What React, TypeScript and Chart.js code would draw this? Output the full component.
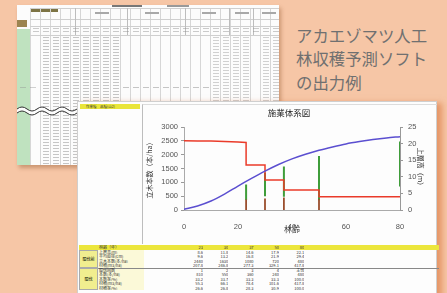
import React, { useEffect, useRef } from "react";
import { Chart, registerables } from "chart.js";

Chart.register(...registerables);

// ---- data ----
const heightAges = [0, 5, 10, 15, 20, 25, 30, 35, 40, 45, 50, 55, 60, 65, 70, 75, 80];
const topHeight = [0.2, 1.2, 2.7, 4.8, 7.2, 9.5, 11.7, 13.7, 15.4, 16.8, 18.0, 19.0, 19.9, 20.6, 21.2, 21.7, 22.1];

const densityAges = [0, 5, 10, 15, 20, 23, 23, 30, 30, 37, 37, 50, 50, 80];
const densityValues = [2500, 2498, 2492, 2480, 2462, 2440, 1630, 1630, 1080, 1080, 720, 720, 480, 480];

const thinningAges = [23, 30, 37, 50, 80];
const greenPeak = [920, 1350, 1570, 1950, 2480];
const greenBase = [360, 500, 480, 350, 850];
const brownTop = [380, 420, 450, 400, 0];

const xTicks = [0, 20, 40, 60, 80];

const tableAges = ["23", "30", "37", "50", "80"];
const beforeLabels = ["上層高(m)", "平均直径(cm)", "立木本数(本/ha)", "材積(m3/ha)"];
const beforeRows = [
  ["8.6", "11.8", "14.6", "17.9", "22.1"],
  ["9.6", "13.2", "16.8", "21.9", "29.4"],
  ["2440", "1630", "1080", "720", "480"],
  ["207.8", "246.8", "277.3", "329.1", "417.8"],
];
const thinLabels = ["間伐回数", "本数(本/ha)", "本数率(%)", "材積(m3/ha)", "材積率(%)"];
const thinRows = [
  ["1", "2", "3", "4", "主伐"],
  ["810", "550", "360", "240", "480"],
  ["33.2", "33.7", "33.3", "33.3", "100.0"],
  ["55.3", "66.1", "78.4", "101.6", "417.8"],
  ["26.6", "26.8", "28.3", "30.9", "100.0"],
];

function spikes(ages: number[], from: number[], to: number[]) {
  const out: { x: number; y: number | null }[] = [];
  ages.forEach((a, i) => {
    if (to[i] > from[i]) {
      out.push({ x: a, y: from[i] });
      out.push({ x: a, y: to[i] });
      out.push({ x: a, y: null });
    }
  });
  return out;
}

const digitMask = "repeating-linear-gradient(to right, transparent 0 3px, #000 3px 9px, transparent 9px 10px)";

function Digits({ left, top, width, height, opacity = 0.5 }: { left: number; top: number; width: number; height: number; opacity?: number }) {
  return (
    <div
      style={{
        position: "absolute",
        left,
        top,
        width,
        height,
        backgroundImage: "repeating-linear-gradient(to bottom, #8f8f8f 0 1px, transparent 1px 3px)",
        WebkitMaskImage: digitMask,
        maskImage: digitMask,
        opacity,
      }}
    />
  );
}

function Spreadsheet() {
  return (
    <div
      style={{
        position: "absolute",
        left: 17,
        top: 5,
        width: 262,
        height: 160,
        background: "#fcfcfc",
        boxShadow: "2px 3px 4px rgba(150,90,50,0.45)",
        overflow: "hidden",
      }}
    >
      {/* green first column */}
      <div style={{ position: "absolute", left: 0, top: 24, width: 13, height: 136, background: "#bfe2bf" }} />
      <div style={{ position: "absolute", left: 0, top: 15, width: 10, height: 7, background: "#9c8450" }} />
      <div style={{ position: "absolute", left: 13, top: 3, width: 28, height: 4, background: "#7d7445" }} />
      {/* column lines */}
      <div
        style={{
          position: "absolute",
          left: 13,
          top: 3,
          width: 249,
          height: 157,
          backgroundImage: "repeating-linear-gradient(to right, #d6d6d6 0 1px, transparent 1px 10px)",
        }}
      />
      {/* header lines */}
      {[3, 14, 21, 30].map((y) => (
        <div key={y} style={{ position: "absolute", left: 13, top: y, width: 249, height: 1, background: "#cfcfcf" }} />
      ))}
      {[58, 110, 168, 212, 236].map((x) => (
        <div key={x} style={{ position: "absolute", left: x, top: 3, width: 1, height: 27, background: "#bdbdbd" }} />
      ))}
      {[78, 128, 185, 218, 245].map((x) => (
        <div key={x} style={{ position: "absolute", left: x, top: 7, width: 14, height: 1.5, background: "#a8a8a8" }} />
      ))}
      {/* column header text marks */}
      <Digits left={13} top={23} width={249} height={6} opacity={0.45} />
      <div style={{ position: "absolute", left: 95, top: 0, width: 30, height: 2, background: "#777" }} />
      <div style={{ position: "absolute", left: 150, top: 0, width: 22, height: 2, background: "#999" }} />
      {/* data values */}
      <Digits left={23} top={32} width={80} height={128} opacity={0.5} />
      <Digits left={193} top={32} width={40} height={128} opacity={0.4} />
      <Digits left={243} top={32} width={19} height={128} opacity={0.4} />
      <Digits left={103} top={82} width={90} height={2} opacity={0.5} />
      <Digits left={0} top={82} width={23} height={2} opacity={0.4} />
      {/* break marker */}
      <svg style={{ position: "absolute", left: 0, top: 100, width: 262, height: 12 }} viewBox="0 0 262 12">
        <path d="M0 4 q5 -4 10 0 t10 0 t10 0 t10 0 t10 0 t10 0 t10 0 L60 8 q-5 4 -10 0 t-10 0 t-10 0 t-10 0 t-10 0 t-10 0 Z" fill="#fcfcfc" stroke="none" />
        <path d="M0 4 q5 -4 10 0 t10 0 t10 0 t10 0 t10 0 t10 0 t10 0" fill="none" stroke="#333" strokeWidth="1" />
        <path d="M0 8 q5 -4 10 0 t10 0 t10 0 t10 0 t10 0 t10 0 t10 0" fill="none" stroke="#333" strokeWidth="1" />
      </svg>
    </div>
  );
}

function DataTable() {
  const rowH = 4.5;
  const colX = (i: number) => 110 + 25.3 * i;
  const cell = (text: string, left: number, top: number, width: number, align: "left" | "center" | "right") => (
    <div
      style={{
        position: "absolute",
        left,
        top,
        width,
        height: rowH,
        fontSize: 4,
        lineHeight: rowH + "px",
        textAlign: align,
        color: "#333",
        whiteSpace: "nowrap",
        overflow: "hidden",
      }}
    >
      {text}
    </div>
  );
  const items: React.ReactNode[] = [];
  let y = 0;
  items.push(
    <div key="hdr" style={{ position: "absolute", left: 0, top: 0, width: 360, height: rowH, background: "#ece63c" }} />
  );
  items.push(<div key="hl">{cell("林齢（年）", 20, 0, 44, "left")}</div>);
  tableAges.forEach((a, i) => items.push(<div key={"a" + i}>{cell(a, colX(i), 0, 14, "right")}</div>));
  y = rowH;
  items.push(
    <div key="g1" style={{ position: "absolute", left: 0, top: y, width: 19, height: rowH * 4, background: "#f1ee8f", border: "0.5px solid #aaa", boxSizing: "border-box", fontSize: 4, display: "flex", alignItems: "center", justifyContent: "center" }}>間伐前</div>
  );
  beforeLabels.forEach((l, r) => {
    items.push(<div key={"bl" + r}>{cell(l, 20, y + r * rowH, 44, "left")}</div>);
    beforeRows[r].forEach((v, i) => items.push(<div key={"bv" + r + i}>{cell(v, colX(i), y + r * rowH, 14, "right")}</div>));
  });
  y += rowH * 4;
  items.push(<div key="sep" style={{ position: "absolute", left: 0, top: y, width: 360, height: 0.6, background: "#888" }} />);
  items.push(
    <div key="g2" style={{ position: "absolute", left: 0, top: y, width: 19, height: rowH * 5, background: "#f1ee8f", border: "0.5px solid #aaa", boxSizing: "border-box", fontSize: 4, display: "flex", alignItems: "center", justifyContent: "center" }}>間伐</div>
  );
  thinLabels.forEach((l, r) => {
    items.push(<div key={"tl" + r}>{cell(l, 20, y + r * rowH, 44, "left")}</div>);
    thinRows[r].forEach((v, i) => items.push(<div key={"tv" + r + i}>{cell(v, colX(i), y + r * rowH, 14, "right")}</div>));
  });
  return (
    <div style={{ position: "absolute", left: 1, top: 143, width: 360, height: 50, fontFamily: '"Noto Sans CJK JP", sans-serif' }}>
      <div style={{ position: "absolute", left: 19, top: rowH, width: 46, height: rowH * 9, background: "#fbf9d8" }} />
      {items}
    </div>
  );
}

export default function App() {
  const ref = useRef<HTMLCanvasElement>(null);

  useEffect(() => {
    if (!ref.current) return;
    const tickFont = { family: "'Liberation Sans', Arial, sans-serif", size: 7.5 };
    const jpFont = "'Noto Sans CJK JP', sans-serif";
    const plain = (v: any) => String(v);
    const chart = new Chart(ref.current, {
      type: "line",
      data: {
        datasets: [
          {
            label: "green",
            data: spikes(thinningAges, greenBase, greenPeak),
            borderColor: "#3f9d3a",
            borderWidth: 2,
            pointRadius: 0,
            spanGaps: false,
            yAxisID: "y",
            order: 3,
          },
          {
            label: "brown",
            data: spikes(thinningAges, thinningAges.map(() => 0), brownTop),
            borderColor: "#9b4f2e",
            borderWidth: 1.8,
            pointRadius: 0,
            spanGaps: false,
            yAxisID: "y",
            order: 2,
          },
          {
            label: "立木本数",
            data: densityAges.map((a, i) => ({ x: a, y: densityValues[i] })),
            borderColor: "#ea3b2a",
            borderWidth: 1.5,
            pointRadius: 0,
            yAxisID: "y",
            order: 1,
          },
          {
            label: "上層高",
            data: heightAges.map((a, i) => ({ x: a, y: topHeight[i] })),
            borderColor: "#5b4fd0",
            borderWidth: 1.5,
            pointRadius: 0,
            cubicInterpolationMode: "monotone",
            yAxisID: "y1",
            order: 0,
          },
        ],
      },
      options: {
        responsive: false,
        animation: false,
        devicePixelRatio: 1,
        layout: { padding: 0 },
        plugins: {
          legend: { display: false },
          tooltip: { enabled: false },
          title: {
            display: true,
            text: "施業体系図",
            color: "#222",
            font: { family: jpFont, size: 8.5, weight: "normal" },
            padding: { top: 4, bottom: 8.8 },
          },
        },
        scales: {
          x: {
            type: "linear",
            min: 0,
            max: 80,
            afterBuildTicks: (s: any) => {
              s.ticks = xTicks.map((v) => ({ value: v }));
            },
            ticks: { color: "#555", font: tickFont, padding: 4, maxRotation: 0, callback: plain },
            grid: { display: false },
            border: { display: true, color: "#aaa" },
            title: {
              display: true,
              text: "林齢",
              color: "#333",
              font: { family: jpFont, size: 8 },
              padding: { top: 2, bottom: 6 },
            },
            afterFit: (s: any) => {
              s.height = 30;
            },
          },
          y: {
            position: "left",
            min: 0,
            max: 3000,
            ticks: { stepSize: 500, color: "#555", font: tickFont, padding: 3, callback: plain },
            grid: { drawOnChartArea: false, tickLength: 3, color: "#999" },
            border: { display: true, color: "#aaa" },
            title: {
              display: true,
              text: "立木本数（本/ha）",
              color: "#333",
              font: { family: jpFont, size: 7 },
              padding: 2,
            },
            afterFit: (s: any) => {
              s.width = 41;
            },
          },
          y1: {
            position: "right",
            min: 0,
            max: 25,
            ticks: { stepSize: 5, color: "#555", font: tickFont, padding: 5, callback: plain },
            grid: { drawOnChartArea: false, tickLength: 3, color: "#999" },
            border: { display: true, color: "#999" },
            title: {
              display: true,
              text: "上層高（m）",
              color: "#333",
              font: { family: jpFont, size: 7 },
              padding: 10,
            },
            afterFit: (s: any) => {
              s.width = 35;
            },
          },
        },
      },
    } as any);
    return () => chart.destroy();
  }, []);

  return (
    <div
      style={{
        position: "fixed",
        left: 0,
        top: 0,
        width: 447,
        height: 293,
        overflow: "hidden",
        background: "#f6c6a6",
        fontFamily: '"Noto Sans CJK JP", sans-serif',
      }}
    >
      <Spreadsheet />
      <div
        style={{
          position: "absolute",
          left: 296,
          top: 23.5,
          width: 150,
          fontSize: 16.4,
          lineHeight: "23.5px",
          color: "#707070",
          whiteSpace: "nowrap",
        }}
      >
        アカエゾマツ人工
        <br />
        林収穫予測ソフト
        <br />
        の出力例
      </div>
      <div
        style={{
          position: "absolute",
          left: 77,
          top: 101,
          width: 360,
          height: 200,
          background: "#fdfdfd",
          border: "1px solid #cfcfcf",
          boxSizing: "border-box",
          boxShadow: "5px 2px 6px rgba(215,110,50,0.55)",
        }}
      >
        <div
          style={{
            position: "absolute",
            left: 2,
            top: 2,
            width: 60,
            height: 5,
            background: "#e9e53a",
            fontSize: 3.5,
            lineHeight: "5px",
            color: "#333",
            paddingLeft: 6,
            boxSizing: "border-box",
            whiteSpace: "nowrap",
          }}
        >
          作業種　品種(山2)
        </div>
        <div
          style={{
            position: "absolute",
            left: 64,
            top: 2,
            width: 294,
            height: 139,
            borderLeft: "1px solid #bdbdbd",
            borderTop: "1px solid #dddddd",
          }}
        />
        <canvas
          ref={ref}
          width={292}
          height={136}
          style={{ position: "absolute", left: 65, top: 2 }}
        />
        <DataTable />
      </div>
    </div>
  );
}
